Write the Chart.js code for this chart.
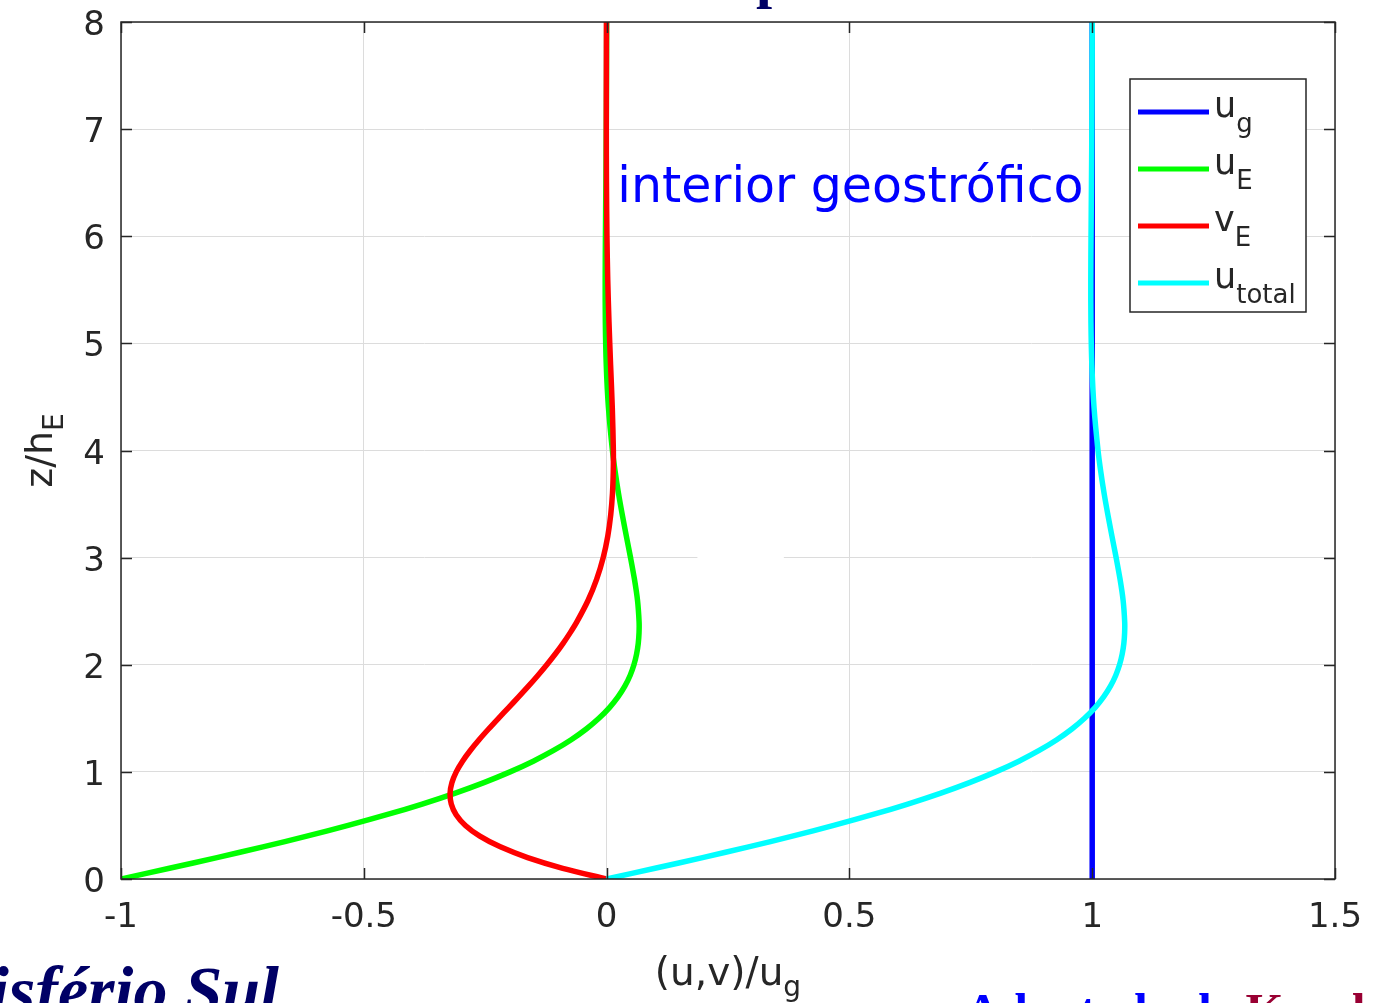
<!DOCTYPE html>
<html>
<head>
<meta charset="utf-8">
<script src="https://cdn.jsdelivr.net/npm/chart.js@4.4.0/dist/chart.umd.min.js"></script>
<style>
  html, body { margin: 0; padding: 0; background: #ffffff; }
  canvas { display: block; }
</style>
</head>
<body>
<canvas id="ekman" width="1374" height="1003"></canvas>
<script>
// Non-dimensional height z/hE at which the profiles are sampled
const zLevels = [0, 0.1, 0.2, 0.3, 0.4, 0.5, 0.6, 0.7, 0.8, 0.9, 1.0, 1.1, 1.2, 1.3, 1.4, 1.5,
  1.6, 1.7, 1.8, 1.9, 2.0, 2.1, 2.2, 2.3, 2.4, 2.6, 2.8, 3.0, 3.2, 3.4, 3.6, 3.8, 4.0,
  4.4, 4.8, 5.2, 5.6, 6.0, 6.5, 7.0, 7.5, 8.0];

// Ekman-layer velocity components, normalised by ug
const uE = [-1, -0.9003, -0.8024, -0.7077, -0.6174, -0.5323, -0.4529, -0.3798, -0.3130, -0.2527,
  -0.1988, -0.1510, -0.1092, -0.0729, -0.0419, -0.0158, 0.0059, 0.0235, 0.0376, 0.0484,
  0.0563, 0.0618, 0.0652, 0.0668, 0.0669, 0.0637, 0.0573, 0.0493, 0.0407, 0.0323, 0.0245,
  0.0177, 0.0120, 0.0038, -0.0007, -0.0026, -0.0029, -0.0024, -0.0015, -0.0007, -0.0002, 0.0001];

const vE = [0, -0.0903, -0.1627, -0.2189, -0.2610, -0.2908, -0.3099, -0.3199, -0.3223, -0.3185,
  -0.3096, -0.2967, -0.2807, -0.2626, -0.2430, -0.2226, -0.2018, -0.1812, -0.1610, -0.1416,
  -0.1231, -0.1057, -0.0896, -0.0748, -0.0613, -0.0383, -0.0204, -0.0070, 0.0024, 0.0085,
  0.0121, 0.0137, 0.0139, 0.0117, 0.0082, 0.0049, 0.0023, 0.0007, -0.0003, -0.0006, -0.0005, -0.0003];

const uTotal = [0, 0.0997, 0.1976, 0.2923, 0.3826, 0.4677, 0.5471, 0.6202, 0.6870, 0.7473,
  0.8012, 0.8490, 0.8908, 0.9271, 0.9581, 0.9842, 1.0059, 1.0235, 1.0376, 1.0484,
  1.0563, 1.0618, 1.0652, 1.0668, 1.0669, 1.0637, 1.0573, 1.0493, 1.0407, 1.0323, 1.0245,
  1.0177, 1.0120, 1.0038, 0.9993, 0.9974, 0.9971, 0.9976, 0.9985, 0.9993, 0.9998, 1.0001];

// Geostrophic interior flow: constant with height
const ugHeights = [0, 8];
const ugValues = [1, 1];

// Axis ticks
const xTickValues = [-1, -0.5, 0, 0.5, 1, 1.5];
const xTickLabels = ['-1', '-0.5', '0', '0.5', '1', '1.5'];
const yTickValues = [0, 1, 2, 3, 4, 5, 6, 7, 8];
const yTickLabels = ['0', '1', '2', '3', '4', '5', '6', '7', '8'];

// Series names (main_sub)
const seriesNames = ['u_g', 'u_E', 'v_E', 'u_total'];
const seriesColors = ['#0000ff', '#00ff00', '#ff0000', '#00ffff'];

const FONT = '"DejaVu Sans", "Open Sans", sans-serif';
const INK = '#262626';

function pairs(xs, ys) { return xs.map((v, i) => ({ x: v, y: ys[i] })); }

function drawSub(ctx, main, sub, x, y, size, subSize, drop) {
  ctx.font = size + 'px ' + FONT;
  ctx.fillText(main, x, y);
  const w = ctx.measureText(main).width;
  ctx.font = subSize + 'px ' + FONT;
  ctx.fillText(sub, x + w, y + drop);
}
function subWidth(ctx, main, sub, size, subSize) {
  ctx.font = size + 'px ' + FONT;
  const a = ctx.measureText(main).width;
  ctx.font = subSize + 'px ' + FONT;
  return a + ctx.measureText(sub).width;
}

const axesFrame = {
  id: 'axesFrame',
  beforeDatasetsDraw(chart) {
    // short break in the z = 3 grid line
    const { ctx, scales: { x, y } } = chart;
    ctx.save();
    ctx.fillStyle = '#ffffff';
    const py = y.getPixelForValue(3);
    ctx.fillRect(x.getPixelForValue(0.187), py - 2, x.getPixelForValue(0.365) - x.getPixelForValue(0.187), 4);
    ctx.restore();
  },
  afterDatasetsDraw(chart) {
    const { ctx, chartArea: a, scales: { x, y } } = chart;
    ctx.save();

    // box
    ctx.strokeStyle = INK;
    ctx.lineWidth = 1.5;
    ctx.strokeRect(a.left, a.top, a.right - a.left, a.bottom - a.top);

    // inward ticks on all four sides
    const tl = 11;
    ctx.beginPath();
    xTickValues.forEach(v => {
      const px = Math.round(x.getPixelForValue(v)) + 0.5;
      ctx.moveTo(px, a.bottom); ctx.lineTo(px, a.bottom - tl);
      ctx.moveTo(px, a.top); ctx.lineTo(px, a.top + tl);
    });
    yTickValues.forEach(v => {
      const py = Math.round(y.getPixelForValue(v)) + 0.5;
      ctx.moveTo(a.left, py); ctx.lineTo(a.left + tl, py);
      ctx.moveTo(a.right, py); ctx.lineTo(a.right - tl, py);
    });
    ctx.stroke();

    // tick labels
    ctx.fillStyle = INK;
    ctx.font = '34px ' + FONT;
    ctx.textAlign = 'center';
    ctx.textBaseline = 'alphabetic';
    xTickValues.forEach((v, i) => ctx.fillText(xTickLabels[i], x.getPixelForValue(v), a.bottom + 48));
    ctx.textAlign = 'right';
    yTickValues.forEach((v, i) => ctx.fillText(yTickLabels[i], a.left - 16, y.getPixelForValue(v) + 13));

    // axis titles
    ctx.textAlign = 'left';
    const xw = subWidth(ctx, '(u,v)/u', 'g', 39, 28);
    drawSub(ctx, '(u,v)/u', 'g', (a.left + a.right) / 2 - xw / 2, 985, 39, 28, 11);

    ctx.save();
    ctx.translate(52, (a.top + a.bottom) / 2);
    ctx.rotate(-Math.PI / 2);
    const yw = subWidth(ctx, 'z/h', 'E', 38, 28);
    drawSub(ctx, 'z/h', 'E', -yw / 2, 0, 38, 28, 11);
    ctx.restore();

    // legend
    const lx = a.right - 205, ly = a.top + 57, lw = 176, lh = 233;
    ctx.fillStyle = '#ffffff';
    ctx.fillRect(lx, ly, lw, lh);
    ctx.strokeStyle = INK;
    ctx.lineWidth = 1.5;
    ctx.strokeRect(lx, ly, lw, lh);
    chart.data.datasets.forEach((ds, i) => {
      const rowY = ly + 33 + i * 57;
      ctx.strokeStyle = ds.borderColor;
      ctx.lineWidth = 5;
      ctx.beginPath();
      ctx.moveTo(lx + 8, rowY); ctx.lineTo(lx + 79, rowY);
      ctx.stroke();
      const [m, s] = ds.label.split('_');
      ctx.fillStyle = INK;
      drawSub(ctx, m, s, lx + 84, rowY + 5, 35, 26, 15);
    });

    // annotation
    ctx.fillStyle = '#0000ff';
    ctx.font = '49px ' + FONT;
    ctx.textAlign = 'left';
    ctx.fillText('interior geostrófico', x.getPixelForValue(0.022), y.getPixelForValue(6.32));

    ctx.restore();
  },
  afterDraw(chart) {
    // slide text around the figure
    const ctx = chart.ctx;
    ctx.save();
    ctx.textBaseline = 'alphabetic';
    ctx.fillStyle = '#000066';
    ctx.font = 'bold 58px "Liberation Serif", serif';
    ctx.textAlign = 'left';
    ctx.fillText('p', 756, -3);

    ctx.font = 'italic bold 68px "Liberation Serif", serif';
    ctx.textAlign = 'right';
    ctx.fillText('Hemisfério Sul', 279, 1013);

    ctx.textAlign = 'left';
    ctx.font = 'bold 49px "Liberation Serif", serif';
    ctx.fillStyle = '#0000ff';
    const pre = 'Adaptado de ';
    ctx.fillText(pre, 965, 1027);
    ctx.fillStyle = '#990033';
    ctx.fillText('Kundu', 965 + ctx.measureText(pre).width, 1027);
    ctx.restore();
  }
};

const series = [pairs(ugValues, ugHeights), pairs(uE, zLevels), pairs(vE, zLevels), pairs(uTotal, zLevels)];

new Chart(document.getElementById('ekman'), {
  type: 'scatter',
  data: {
    datasets: series.map((d, i) => ({
      label: seriesNames[i],
      data: d,
      showLine: true,
      borderColor: seriesColors[i],
      backgroundColor: seriesColors[i],
      borderWidth: 5.5,
      pointRadius: 0,
      tension: 0.3,
      fill: false,
      order: seriesNames.length - i
    }))
  },
  options: {
    responsive: false,
    animation: false,
    devicePixelRatio: 1,
    events: [],
    layout: { padding: { left: 0, top: 22, right: 39, bottom: 0 } },
    plugins: { legend: { display: false }, tooltip: { enabled: false }, title: { display: false } },
    scales: {
      x: {
        type: 'linear', min: -1, max: 1.5,
        afterBuildTicks: s => { s.ticks = xTickValues.map(v => ({ value: v })); },
        afterFit: s => { s.height = 124; },
        ticks: { display: false },
        border: { display: false },
        grid: { color: '#dcdcdc', lineWidth: 1, drawTicks: false }
      },
      y: {
        type: 'linear', min: 0, max: 8,
        afterBuildTicks: s => { s.ticks = yTickValues.map(v => ({ value: v })); },
        afterFit: s => { s.width = 121; },
        ticks: { display: false },
        border: { display: false },
        grid: { color: '#dcdcdc', lineWidth: 1, drawTicks: false }
      }
    }
  },
  plugins: [axesFrame]
});
</script>
</body>
</html>
